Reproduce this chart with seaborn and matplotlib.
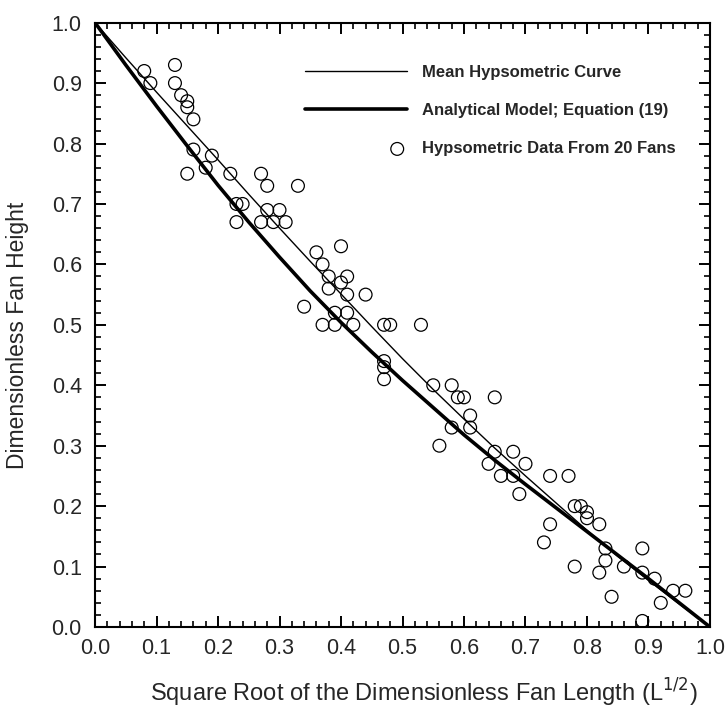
import numpy as np
import pandas as pd
import matplotlib
matplotlib.use("Agg")
import matplotlib.pyplot as plt
from matplotlib.ticker import MultipleLocator, FormatStrFormatter
from matplotlib.legend_handler import HandlerPathCollection
import seaborn as sns

# Hypsometric data from 20 fans
fan_x = [0.08, 0.09, 0.13, 0.13, 0.14, 0.15, 0.15, 0.16, 0.16, 0.15, 0.19, 0.18,
         0.22, 0.27, 0.28, 0.33, 0.23, 0.24, 0.23, 0.27, 0.28, 0.29, 0.30, 0.31,
         0.36, 0.40, 0.37, 0.38, 0.41, 0.40, 0.38, 0.41, 0.44, 0.34, 0.39, 0.41,
         0.37, 0.39, 0.42, 0.47, 0.48, 0.53, 0.47, 0.47, 0.47, 0.55, 0.58, 0.59,
         0.60, 0.65, 0.61, 0.56, 0.58, 0.61, 0.65, 0.64, 0.68, 0.70, 0.66, 0.68,
         0.69, 0.74, 0.77, 0.78, 0.79, 0.80, 0.80, 0.82, 0.74, 0.73, 0.83, 0.83,
         0.78, 0.82, 0.86, 0.89, 0.89, 0.91, 0.84, 0.92, 0.94, 0.96, 0.89]
fan_y = [0.92, 0.90, 0.93, 0.90, 0.88, 0.87, 0.86, 0.84, 0.79, 0.75, 0.78, 0.76,
         0.75, 0.75, 0.73, 0.73, 0.70, 0.70, 0.67, 0.67, 0.69, 0.67, 0.69, 0.67,
         0.62, 0.63, 0.60, 0.58, 0.58, 0.57, 0.56, 0.55, 0.55, 0.53, 0.52, 0.52,
         0.50, 0.50, 0.50, 0.50, 0.50, 0.50, 0.44, 0.43, 0.41, 0.40, 0.40, 0.38,
         0.38, 0.38, 0.35, 0.30, 0.33, 0.33, 0.29, 0.27, 0.29, 0.27, 0.25, 0.25,
         0.22, 0.25, 0.25, 0.20, 0.20, 0.19, 0.18, 0.17, 0.17, 0.14, 0.13, 0.11,
         0.10, 0.09, 0.10, 0.13, 0.09, 0.08, 0.05, 0.04, 0.06, 0.06, 0.01]

# Curves sampled along the square-root length axis
curve_x = [0.00, 0.05, 0.10, 0.15, 0.20, 0.25, 0.30, 0.35, 0.40, 0.45, 0.50,
           0.55, 0.60, 0.65, 0.70, 0.75, 0.80, 0.85, 0.90, 0.95, 1.00]
mean_y = [1.000, 0.942, 0.885, 0.829, 0.773, 0.716, 0.660, 0.605, 0.551, 0.497, 0.444,
          0.393, 0.344, 0.296, 0.250, 0.205, 0.160, 0.117, 0.077, 0.038, 0.000]
model_y = [1.000, 0.930, 0.862, 0.796, 0.731, 0.670, 0.612, 0.556, 0.504, 0.455, 0.408,
           0.363, 0.318, 0.276, 0.236, 0.197, 0.158, 0.119, 0.080, 0.040, 0.000]

ticks = [0.0, 0.1, 0.2, 0.3, 0.4, 0.5, 0.6, 0.7, 0.8, 0.9, 1.0]

fans = pd.DataFrame({"x": fan_x, "y": fan_y})
curves = pd.DataFrame({"x": curve_x, "mean": mean_y, "model": model_y})

sns.set_style("ticks")
plt.rcParams["font.family"] = ["Liberation Sans", "DejaVu Sans"]
plt.rcParams["axes.linewidth"] = 1.5

fig = plt.figure(figsize=(7.27, 7.08), dpi=100)
ax = fig.add_axes([0.1307, 0.1144, 0.8459, 0.8536])

sns.lineplot(data=curves, x="x", y="mean", ax=ax, color="black", lw=1.0,
             label="Mean Hypsometric Curve", sort=False)
sns.lineplot(data=curves, x="x", y="model", ax=ax, color="black", lw=2.6,
             label="Analytical Model; Equation (19)", sort=False)
sns.scatterplot(data=fans, x="x", y="y", ax=ax, s=85, facecolor="none",
                edgecolor="black", linewidth=0.9, zorder=3,
                label="Hypsometric Data From 20 Fans")

ax.set_xlim(0, 1)
ax.set_ylim(0, 1)
ax.set_xticks(ticks)
ax.set_yticks(ticks)
ax.xaxis.set_major_formatter(FormatStrFormatter("%.1f"))
ax.yaxis.set_major_formatter(FormatStrFormatter("%.1f"))
ax.xaxis.set_minor_locator(MultipleLocator(0.02))
ax.yaxis.set_minor_locator(MultipleLocator(0.02))
ax.tick_params(which="both", direction="in", top=True, right=True, color="black")
ax.tick_params(which="major", length=8, width=1.4, labelsize=15.5)
ax.tick_params(axis="x", which="major", pad=8)
ax.tick_params(axis="y", which="major", pad=9.5)
ax.tick_params(which="minor", length=4.5, width=1.2)
for sp in ax.spines.values():
    sp.set_color("black")
    sp.set_linewidth(1.5)

ax.set_xlabel("Square Root of the Dimensionless Fan Length (L$^{1/2}$)", fontsize=17)
ax.xaxis.set_label_coords(0.535, -0.082)
ax.set_ylabel("Dimensionless Fan Height", fontsize=16.5)
ax.yaxis.set_label_coords(-0.107, 0.483)


class RightEndMarker(HandlerPathCollection):
    """Place the single legend marker at the right end of the handle."""
    def get_xdata(self, legend, xdescent, ydescent, width, height, fontsize):
        xm = -xdescent + width - 0.6 * fontsize
        return [xm], [xm]


handles, labels = ax.get_legend_handles_labels()
leg = ax.legend(handles, labels, loc="upper left", bbox_to_anchor=(0.341, 0.930),
                borderaxespad=0, borderpad=0,
                frameon=False, handlelength=6.15, handletextpad=0.89,
                labelspacing=1.39, scatterpoints=1,
                prop={"weight": "bold", "size": 12},
                handler_map={type(handles[2]): RightEndMarker()})

fig.savefig("out.png", dpi=100)
